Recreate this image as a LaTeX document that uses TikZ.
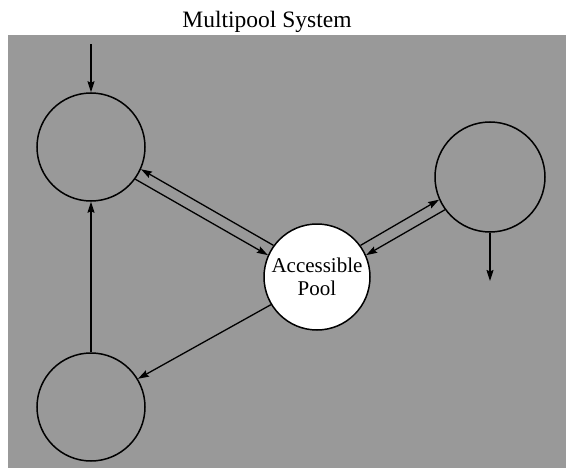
\documentclass[tikz,border=0pt]{standalone}
\usepackage{fontspec}
\setmainfont{Liberation Serif}
\usetikzlibrary{arrows.meta}

\tikzset{
	pool/.style={circle, draw, line width=1.5pt, minimum size=108pt, inner sep=0pt},
	flow/.style={line width=1.3pt, -{Stealth[length=11pt,width=7pt,inset=1.5pt]}},
}

\begin{document}
\begin{tikzpicture}[x=1pt,y=-1pt]
	\useasboundingbox (0,0) rectangle (566,471);
	\fill [black!40] (8,35) rectangle (566,468);
	\node (title) at (267,22) {\fontsize{23.5}{26}\selectfont Multipool System};
	
	\node [pool] (tl) at (91,147) {};
	\node [pool] (bl) at (91,407) {};
	\node [pool, minimum size=110pt] (rt) at (490,177) {};
	\node [pool, fill=white, minimum size=106pt, align=center, font=\fontsize{21}{23}\selectfont] (ac) at (317,277) {Accessible\\Pool};
	
	\coordinate (in) at (91,44);
	\coordinate (out) at (490,281);
	
	\draw [flow] (in) -- (tl.north);
	\draw [flow] (rt.south) -- (out);
	\draw [flow] (bl.north) -- (tl.south);
	
	\draw [flow] (ac.144) -- (tl.-24);
	\draw [flow] (tl.-36) -- (ac.156);
	\draw [flow] (ac.36) -- (rt.204);
	\draw [flow] (rt.216) -- (ac.24);
	\draw [flow] (ac.211) -- (bl.31);
\end{tikzpicture}
\end{document}
